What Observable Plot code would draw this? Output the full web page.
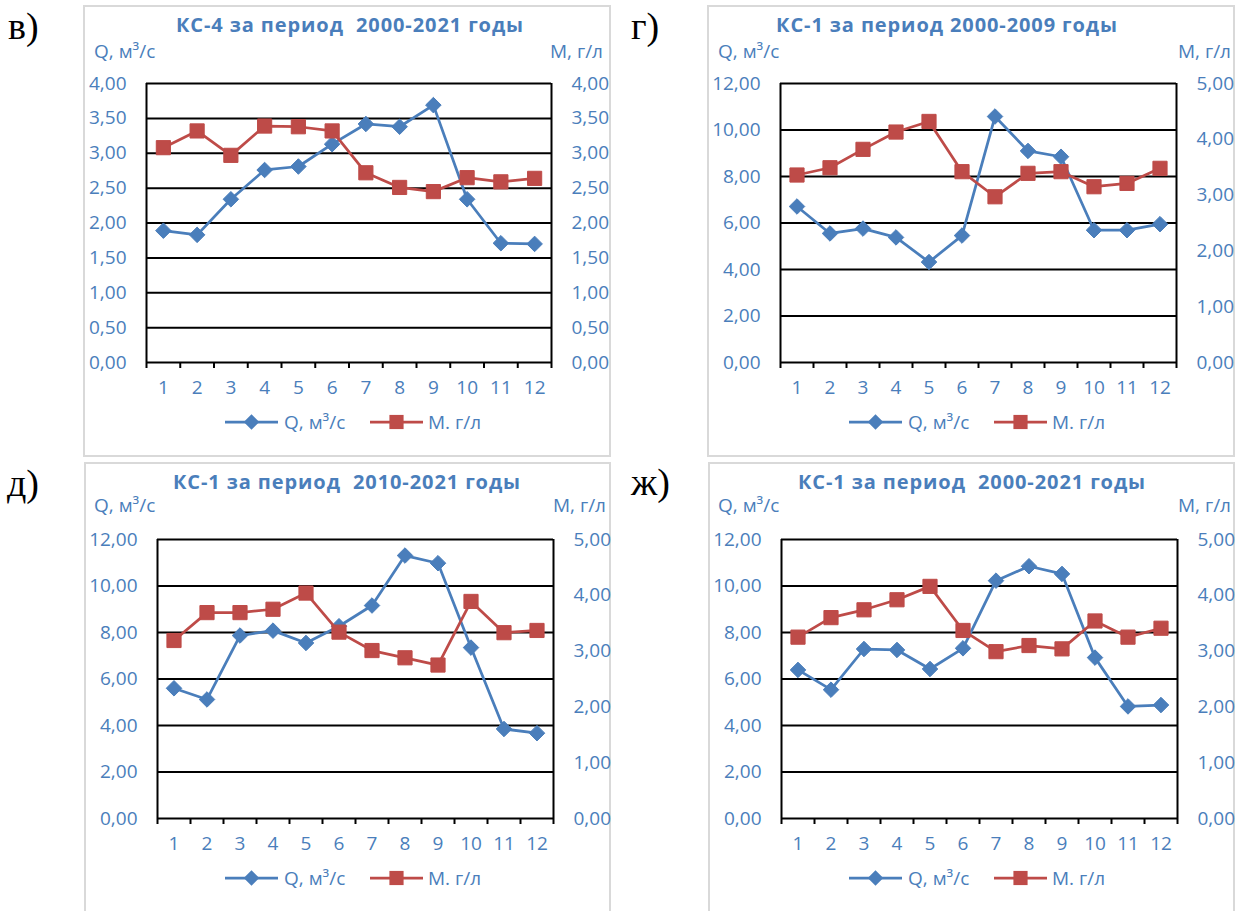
<!DOCTYPE html>
<html><head><meta charset="utf-8">
<script src="https://cdn.jsdelivr.net/npm/d3@7"></script>
<script src="https://cdn.jsdelivr.net/npm/@observablehq/plot@0.6"></script>
<style>
body{margin:0;background:#fff;}
#root{position:relative;width:1238px;height:911px;overflow:hidden;background:#fff;}
.box{position:absolute;border:2px solid #d9d9d9;box-sizing:border-box;background:#fff;}
.plot{position:absolute;}
svg.overlay{position:absolute;left:0;top:0;}
</style></head><body><div id="root"></div>
<script>
// ---- data ----
const months = [1,2,3,4,5,6,7,8,9,10,11,12];
const qKS4_2000_2021 = [1.89,1.83,2.34,2.76,2.81,3.13,3.42,3.38,3.69,2.34,1.71,1.70];
const mKS4_2000_2021 = [3.08,3.32,2.97,3.39,3.38,3.32,2.72,2.51,2.45,2.65,2.59,2.64];
const qKS1_2000_2009 = [6.71,5.55,5.76,5.38,4.32,5.46,10.58,9.10,8.85,5.69,5.69,5.95];
const mKS1_2000_2009 = [3.36,3.49,3.82,4.13,4.32,3.42,2.97,3.39,3.42,3.15,3.21,3.48];
const qKS1_2010_2021 = [5.60,5.12,7.87,8.08,7.55,8.27,9.16,11.31,10.98,7.35,3.85,3.67];
const mKS1_2010_2021 = [3.19,3.69,3.69,3.75,4.04,3.34,3.01,2.88,2.75,3.89,3.33,3.37];
const qKS1_2000_2021 = [6.39,5.54,7.29,7.25,6.43,7.32,10.23,10.85,10.52,6.92,4.82,4.88];
const mKS1_2000_2021 = [3.25,3.60,3.74,3.92,4.16,3.37,2.99,3.10,3.04,3.54,3.25,3.41];
const qTicksSmall = [0,0.5,1,1.5,2,2.5,3,3.5,4];
const mTicksSmall = [0,0.5,1,1.5,2,2.5,3,3.5,4];
const qTicksLarge = [0,2,4,6,8,10,12];
const mTicksLarge = [0,1,2,3,4,5];
const panelTitles = ["КС-4 за период  2000-2021 годы","КС-1 за период 2000-2009 годы","КС-1 за период  2010-2021 годы","КС-1 за период  2000-2021 годы"];
const panelLetters = ["в)","г)","д)","ж)"];
const qAxisTitle = "Q, м³/с";
const mAxisTitle = "М, г/л";
const qLegendText = "Q, м³/с";
const mLegendText = "М. г/л";

const BLUE = "#4a7ebb", RED = "#be4b48", TXT = "#4a7ebb";
const fmt = v => v.toFixed(2).replace(".", ",");
const R_DIAMOND = 7.0, R_SQUARE = 8.0, LINE_W = 2.75;

const panels = [
  {q:qKS4_2000_2021, m:mKS4_2000_2021, qt:qTicksSmall, mt:mTicksSmall, title:panelTitles[0], letter:panelLetters[0],
   box:[83,5,528,452], ml:63, mr:60, mtop:78, tcx:350, tby:32, qx:94, mx:550, aby:58, lx:225, ly:422, letx:8, lety:39},
  {q:qKS1_2000_2009, m:mKS1_2000_2009, qt:qTicksLarge, mt:mTicksLarge, title:panelTitles[1], letter:panelLetters[1],
   box:[707,5,528,452], ml:73, mr:59, mtop:78, tcx:947, tby:32, qx:718, mx:1178, aby:58, lx:849, ly:422, letx:631, lety:39},
  {q:qKS1_2010_2021, m:mKS1_2010_2021, qt:qTicksLarge, mt:mTicksLarge, title:panelTitles[2], letter:panelLetters[2],
   box:[84,462,527,460], ml:73, mr:58, mtop:77, tcx:347, tby:489, qx:94, mx:553, aby:512, lx:225, ly:878, letx:7, lety:496},
  {q:qKS1_2000_2021, m:mKS1_2000_2021, qt:qTicksLarge, mt:mTicksLarge, title:panelTitles[3], letter:panelLetters[3],
   box:[708,462,527,460], ml:73, mr:58, mtop:77, tcx:972, tby:489, qx:718, mx:1178, aby:512, lx:849, ly:878, letx:631, lety:495}
];

const root = document.getElementById("root");
const PLOT_H = 410, INNER_H = 279;

panels.forEach(p => {
  const [bx, by, bw, bh] = p.box;
  const box = document.createElement("div");
  box.className = "box";
  Object.assign(box.style, {left:bx+"px", top:by+"px", width:bw+"px", height:bh+"px"});
  root.appendChild(box);

  const qMax = p.qt[p.qt.length-1], mMax = p.mt[p.mt.length-1];
  const k = qMax / mMax;
  const data = months.map((mo,i) => ({mo, q:p.q[i], mm:p.m[i]*k}));
  const bounds = months.map(mo => mo - 0.5).concat([months[months.length-1] + 0.5]);

  const chart = Plot.plot({
    width: bw, height: PLOT_H,
    marginLeft: p.ml, marginRight: p.mr, marginTop: p.mtop, marginBottom: PLOT_H - p.mtop - INNER_H,
    x: {domain: [bounds[0], bounds[bounds.length-1]]},
    y: {domain: [0, qMax]},
    style: {fontFamily: "'Open Sans', sans-serif", fontSize: "19px", color: TXT, background: "transparent", overflow: "visible"},
    marks: [
      Plot.ruleY(p.qt, {stroke: "#000", strokeWidth: 2}),
      Plot.ruleX([bounds[0], bounds[bounds.length-1]], {stroke: "#000", strokeWidth: 2}),
      Plot.axisX(bounds, {tickSize: 6, stroke: "#000", strokeWidth: 2, tickFormat: () => "", label: null}),
      Plot.axisX(months, {tickSize: 0, tickPadding: 18, tickFormat: d => String(d), label: null, fill: TXT}),
      Plot.axisY(p.qt, {anchor: "left", tickSize: 0, tickPadding: 20, tickFormat: fmt, label: null, fill: TXT}),
      Plot.axisY(p.mt.map(v => v*k), {anchor: "right", tickSize: 0, tickPadding: 20, tickFormat: d => fmt(d/k), label: null, fill: TXT}),
      Plot.line(data, {x: "mo", y: "q", stroke: BLUE, strokeWidth: LINE_W}),
      Plot.dot(data, {x: "mo", y: "q", symbol: "diamond2", r: R_DIAMOND, fill: BLUE, stroke: BLUE, strokeWidth: 1}),
      Plot.line(data, {x: "mo", y: "mm", stroke: RED, strokeWidth: LINE_W}),
      Plot.dot(data, {x: "mo", y: "mm", symbol: "square", r: R_SQUARE, fill: RED, stroke: RED, strokeWidth: 1})
    ]
  });
  chart.classList.add("plot");
  Object.assign(chart.style, {left: bx+"px", top: by+"px", position: "absolute"});
  root.appendChild(chart);
});

// overlay texts
const ov = d3.select(root).append("svg").attr("class","overlay").attr("width",1238).attr("height",911);
panels.forEach(p => {
  ov.append("text").attr("x", p.letx).attr("y", p.lety)
    .attr("font-family","'Liberation Serif','DejaVu Serif',serif").attr("font-size",38).attr("fill","#000").text(p.letter);
  ov.append("text").attr("x", p.tcx).attr("y", p.tby).attr("text-anchor","middle")
    .attr("font-family","'Open Sans',sans-serif").attr("font-weight",700).attr("font-size",20)
    .attr("letter-spacing","0.9px").style("white-space","pre").attr("fill",TXT).text(p.title);
  ov.append("text").attr("x", p.qx).attr("y", p.aby)
    .attr("font-family","'Open Sans',sans-serif").attr("font-size",19).attr("fill",TXT).text(qAxisTitle);
  ov.append("text").attr("x", p.mx).attr("y", p.aby)
    .attr("font-family","'Open Sans',sans-serif").attr("font-size",19).attr("fill",TXT).text(mAxisTitle);
  // legend
  const g = ov.append("g").attr("transform", `translate(${p.lx},${p.ly})`);
  g.append("line").attr("x1",0).attr("x2",53).attr("y1",0).attr("y2",0).attr("stroke",BLUE).attr("stroke-width",LINE_W);
  g.append("path").attr("transform","translate(26.5,0)").attr("d", d3.symbol(d3.symbolDiamond2, Math.PI*R_DIAMOND*R_DIAMOND)()).attr("fill",BLUE);
  g.append("text").attr("x",59).attr("y",0).attr("dy","0.35em").attr("font-family","'Open Sans',sans-serif").attr("font-size",19).attr("fill",TXT).text(qLegendText);
  g.append("line").attr("x1",145).attr("x2",198).attr("y1",0).attr("y2",0).attr("stroke",RED).attr("stroke-width",LINE_W);
  g.append("path").attr("transform","translate(171.5,0)").attr("d", d3.symbol(d3.symbolSquare, Math.PI*R_SQUARE*R_SQUARE)()).attr("fill",RED);
  g.append("text").attr("x",203).attr("y",0).attr("dy","0.35em").attr("font-family","'Open Sans',sans-serif").attr("font-size",19).attr("fill",TXT).text(mLegendText);
});
</script></body></html>
